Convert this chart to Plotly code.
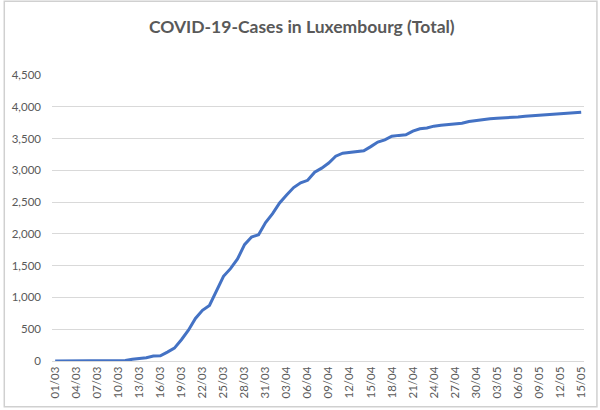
import plotly.graph_objects as go
import pandas as pd

# daily dates 01/03 .. 15/05 (2020)
dates = pd.date_range("2020-03-01", "2020-05-15", freq="D").strftime("%d/%m").tolist()

# cumulative confirmed cases
cases = [1, 1, 1, 1, 2, 3, 4, 5, 5, 7, 7, 26, 34, 51, 77, 81, 140, 203, 335, 484,
         670, 798, 875, 1099, 1333, 1453, 1605, 1831, 1950, 1988, 2178, 2319, 2487,
         2612, 2729, 2804, 2843, 2970, 3034, 3115, 3223, 3270, 3281, 3292, 3307,
         3373, 3444, 3480, 3537, 3550, 3558, 3618, 3654, 3665, 3695, 3711, 3723,
         3729, 3741, 3769, 3784, 3802, 3812, 3819, 3824, 3828, 3840, 3851, 3859,
         3871, 3877, 3886, 3888, 3894, 3904, 3915]

y_ticks = [0, 500, 1000, 1500, 2000, 2500, 3000, 3500, 4000, 4500]

idx = list(range(len(dates)))
txt = '#595959'

fig = go.Figure(go.Scatter(x=idx, y=cases, mode='lines',
                           line=dict(color='#4472C4', width=3),
                           hoverinfo='skip'))

fig.update_layout(
    width=600, height=410,
    margin=dict(l=49, r=16, t=75, b=48),
    paper_bgcolor='white', plot_bgcolor='white',
    showlegend=False,
    font=dict(family='Lato, Open Sans, sans-serif', color=txt, size=10),
    title=dict(text='<b>COVID-19-Cases in Luxembourg (Total)</b>',
               x=0.503, xanchor='center', y=0.935, yanchor='middle',
               font=dict(size=17.5, color=txt, family='Lato, Open Sans, sans-serif')),
    xaxis=dict(range=[-0.45, 75.4], tickmode='array',
               tickvals=idx[::3], ticktext=dates[::3], tickangle=-90,
               showgrid=False, zeroline=False, showline=True,
               linecolor='#d9d9d9', linewidth=1, ticks='',
               tickfont=dict(size=11.5, color=txt)),
    yaxis=dict(range=[0, 4500], tickvals=y_ticks, tickformat=',',
               showgrid=True, gridcolor='#d9d9d9', gridwidth=1,
               zeroline=False, showline=False, ticks='',
               ticklabelstandoff=10,
               tickfont=dict(size=11.5, color=txt)),
    shapes=[dict(type='rect', xref='paper', yref='paper',
                 x0=-0.0897, x1=1.0243, y0=-0.1603, y1=1.2578,
                 line=dict(color='#d0d0d0', width=1.5), layer='below')],
)

fig.write_html("out.html", config={'displayModeBar': False},
               post_script="document.body.style.margin='0';")
